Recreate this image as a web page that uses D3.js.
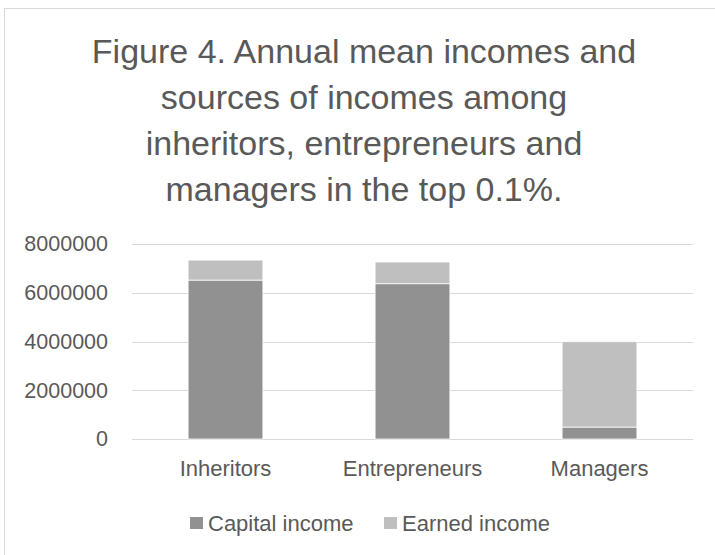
<!DOCTYPE html>
<html>
<head>
<meta charset="utf-8">
<script src="https://cdn.jsdelivr.net/npm/d3@7"></script>
<style>
  body { margin: 0; background: #fff; }
  svg { display: block; }
  text { font-family: "Liberation Sans", Arial, sans-serif; fill: #595959; }
</style>
</head>
<body>
<svg id="chart" width="715" height="555"></svg>
<script>
// Chart data
const titleLines = [
  "Figure 4. Annual mean incomes and",
  "sources of incomes among",
  "inheritors, entrepreneurs and",
  "managers in the top 0.1%."
];
const categories = ["Inheritors", "Entrepreneurs", "Managers"];
const seriesNames = ["Capital income", "Earned income"];
const capitalIncome = [6520000, 6370000, 490000];
const earnedIncome = [820000, 890000, 3500000];
const yTicks = [0, 2000000, 4000000, 6000000, 8000000];
const seriesColors = ["#919191", "#bfbfbf"];

const svg = d3.select("#chart");
const W = 715, H = 555;
const plot = { left: 132, right: 693, top: 244, bottom: 439 };

// Chart frame
svg.append("rect")
  .attr("x", 4.5).attr("y", 8.5)
  .attr("width", W + 20).attr("height", H + 20)
  .attr("fill", "#fff").attr("stroke", "#d9d9d9").attr("stroke-width", 1);

// Title
const title = svg.append("text")
  .attr("text-anchor", "middle")
  .style("font-size", "34px");
titleLines.forEach((line, i) => {
  title.append("tspan").attr("x", 364).attr("y", 63 + i * 46).text(line);
});

// Scales
const x = d3.scaleBand()
  .domain(categories)
  .range([plot.left, plot.right])
  .paddingInner(0.6)
  .paddingOuter(0.3);
const y = d3.scaleLinear()
  .domain([0, 8000000])
  .range([plot.bottom, plot.top]);

// Gridlines
svg.append("g")
  .selectAll("line")
  .data(yTicks)
  .join("line")
  .attr("x1", plot.left).attr("x2", plot.right)
  .attr("y1", d => Math.round(y(d)) + 0.5)
  .attr("y2", d => Math.round(y(d)) + 0.5)
  .attr("stroke", "#d9d9d9").attr("stroke-width", 1);

// Y axis labels
const yAxis = svg.append("g")
  .attr("transform", `translate(${plot.left - 24},0)`)
  .call(d3.axisLeft(y).tickValues(yTicks).tickSize(0).tickPadding(0).tickFormat(d3.format("d")));
yAxis.select(".domain").remove();
yAxis.selectAll("text")
  .style("font-size", "21.5px")
  .attr("fill", "#595959");

// Stacked bars
const rows = categories.map((c, i) => ({
  category: c,
  "Capital income": capitalIncome[i],
  "Earned income": earnedIncome[i]
}));
const stack = d3.stack().keys(seriesNames)(rows);

svg.append("g")
  .selectAll("g")
  .data(stack)
  .join("g")
  .attr("fill", (d, i) => seriesColors[i])
  .selectAll("rect")
  .data(d => d)
  .join("rect")
  .attr("x", d => x(d.data.category))
  .attr("width", x.bandwidth())
  .attr("y", d => y(d[1]))
  .attr("height", d => y(d[0]) - y(d[1]))
  .attr("stroke", "#ffffff")
  .attr("stroke-width", 0.75);

// X axis labels
const xAxis = svg.append("g")
  .attr("transform", `translate(0,${plot.bottom + 37})`)
  .call(d3.axisBottom(x).tickSize(0).tickPadding(0));
xAxis.select(".domain").remove();
xAxis.selectAll("text")
  .style("font-size", "22px")
  .attr("fill", "#595959")
  .attr("dy", "0");

// Legend
const legend = svg.append("g").attr("transform", "translate(0,531)");
const legendItems = [
  { name: seriesNames[0], color: seriesColors[0], x: 190 },
  { name: seriesNames[1], color: seriesColors[1], x: 384 }
];
const li = legend.selectAll("g")
  .data(legendItems)
  .join("g")
  .attr("transform", d => `translate(${d.x},0)`);
li.append("rect")
  .attr("x", 0).attr("y", -14)
  .attr("width", 13).attr("height", 12)
  .attr("fill", d => d.color);
li.append("text")
  .attr("x", 18).attr("y", 0)
  .style("font-size", "22px")
  .text(d => d.name);
</script>
</body>
</html>
